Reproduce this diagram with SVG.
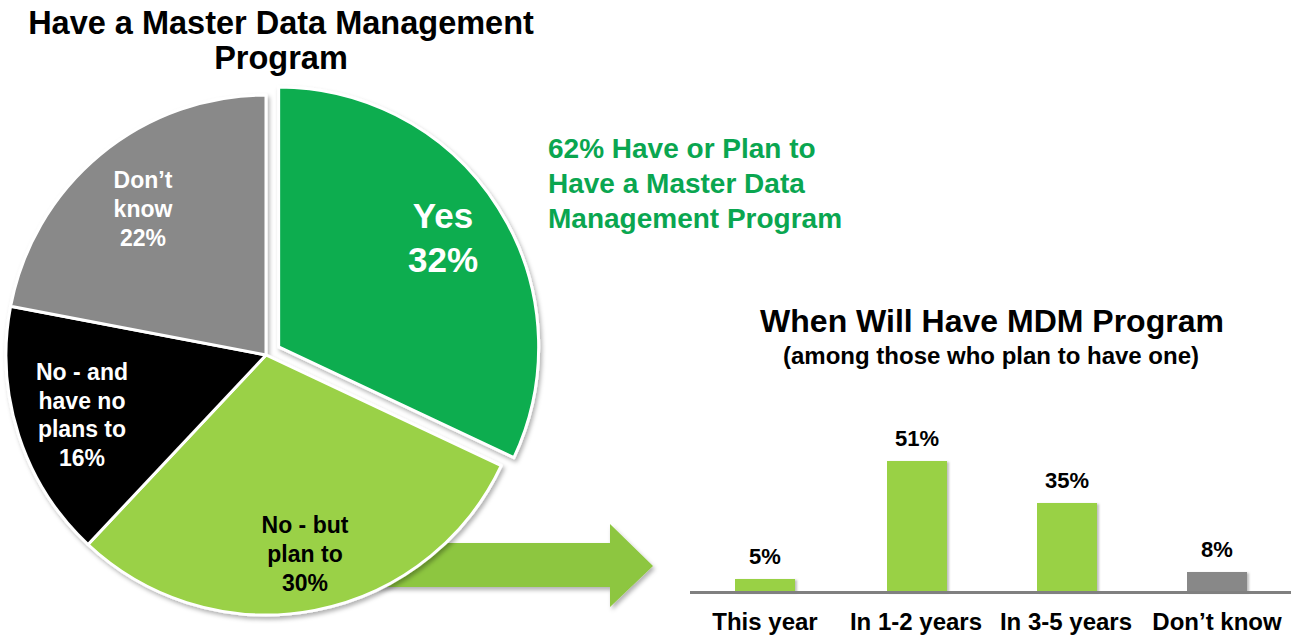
<svg xmlns="http://www.w3.org/2000/svg" width="1291" height="637" viewBox="0 0 1291 637">
<defs>
<filter id="sh" x="-10%" y="-10%" width="120%" height="120%">
<feDropShadow dx="2" dy="3" stdDeviation="2" flood-color="#000" flood-opacity="0.3"/>
</filter>
<filter id="shs" x="-10%" y="-10%" width="130%" height="130%">
<feDropShadow dx="2" dy="1" stdDeviation="1.2" flood-color="#000" flood-opacity="0.25"/>
</filter>
</defs>
<style>
text{font-family:"Liberation Sans",Arial,sans-serif;font-weight:bold;text-anchor:middle}
.title{font-size:32px;fill:#000}
.sub{font-size:24px;fill:#000}
.green{font-size:28px;fill:#0AA650;text-anchor:start}
.lbl{font-size:23px}
.w{fill:#fff}
.k{fill:#000}
.slice{stroke:#fff;stroke-width:3;stroke-linejoin:round}
.val{font-size:22px;fill:#000}
.cat{font-size:24px;fill:#000}
</style>
<rect width="1291" height="637" fill="#fff"/>

<g id="title">
<text class="title" x="281" y="34" style="font-size:32.5px">Have a Master Data Management</text>
<text class="title" x="281" y="69" style="font-size:32.5px">Program</text>
</g>

<g id="connectors">
<path d="M340,543 L610,543 L610,524 L653,566 L610,607 L610,587 L340,587 Z" fill="#8DC63F" filter="url(#sh)"/>
</g>

<g id="pie" filter="url(#sh)">
<g id="slice-no-but">
<path class="slice" d="M266,355 L501.26,465.70 A260,260 0 0 1 88.02,544.53 Z" fill="#9AD147"/>
</g>
<g id="slice-no-and">
<path class="slice" d="M266,355 L88.02,544.53 A260,260 0 0 1 10.60,306.28 Z" fill="#050505"/>
</g>
<g id="slice-dont-know">
<path class="slice" d="M266,355 L10.60,306.28 A260,260 0 0 1 266,95 Z" fill="#898989"/>
</g>
<g id="slice-yes">
<path class="slice" d="M278.66,346.96 L278.66,86.96 A260,260 0 0 1 513.92,457.66 Z" fill="#09AD50"/>
</g>
</g>

<g id="pie-labels">
<text class="lbl w"><tspan x="143" y="188">Don’t</tspan><tspan x="143" y="217">know</tspan><tspan x="143" y="246">22%</tspan></text>
<text class="w" style="font-size:35px"><tspan x="443" y="228">Yes</tspan><tspan x="443" y="272">32%</tspan></text>
<text class="lbl w"><tspan x="82" y="380">No - and</tspan><tspan x="82" y="409">have no</tspan><tspan x="82" y="437">plans to</tspan><tspan x="82" y="466">16%</tspan></text>
<text class="lbl k"><tspan x="305" y="533">No - but</tspan><tspan x="305" y="562">plan to</tspan><tspan x="305" y="591">30%</tspan></text>
</g>

<g id="callout">
<text class="green"><tspan x="548" y="158">62% Have or Plan to</tspan><tspan x="548" y="193">Have a Master Data</tspan><tspan x="548" y="228">Management Program</tspan></text>
</g>

<g id="bar-chart">
<text class="title" x="992" y="332" style="font-size:32px">When Will Have MDM Program</text>
<text class="sub" x="991" y="364">(among those who plan to have one)</text>
<g id="bar-this-year">
<rect x="735" y="579" width="60" height="13" fill="#99D145" filter="url(#shs)"/>
<text class="val" x="765" y="564">5%</text>
<text class="cat" x="765" y="630">This year</text>
</g>
<g id="bar-1-2">
<rect x="887" y="461" width="60" height="131" fill="#99D145" filter="url(#shs)"/>
<text class="val" x="917" y="446">51%</text>
<text class="cat" x="916" y="630">In 1-2 years</text>
</g>
<g id="bar-3-5">
<rect x="1037" y="503" width="60" height="89" fill="#99D145" filter="url(#shs)"/>
<text class="val" x="1067" y="488">35%</text>
<text class="cat" x="1066" y="630">In 3-5 years</text>
</g>
<g id="bar-dont-know">
<rect x="1187" y="572" width="60" height="20" fill="#888888" filter="url(#shs)"/>
<text class="val" x="1217" y="557">8%</text>
<text class="cat" x="1217" y="630">Don’t know</text>
</g>
<line x1="690" y1="592.5" x2="1291" y2="592.5" stroke="#808080" stroke-width="3"/>
</g>
</svg>
